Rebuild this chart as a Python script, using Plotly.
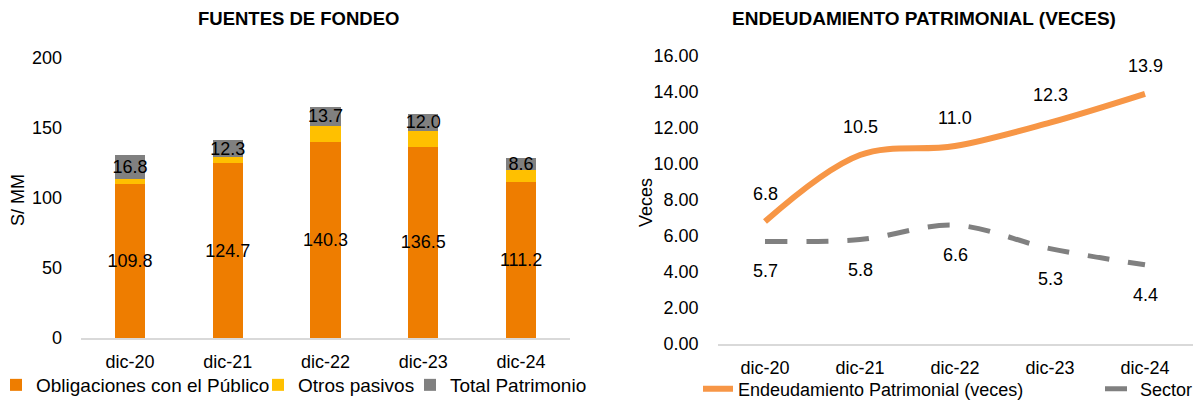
import plotly.graph_objects as go

# ---- data ----
periods = ["dic-20", "dic-21", "dic-22", "dic-23", "dic-24"]

obligaciones_publico = [109.8, 124.7, 140.3, 136.5, 111.2]
otros_pasivos = [4.1, 4.5, 11.1, 11.5, 9.0]
total_patrimonio = [16.8, 12.3, 13.7, 12.0, 8.6]

endeudamiento = [6.8, 10.5, 11.0, 12.3, 13.9]
sector = [5.7, 5.8, 6.6, 5.3, 4.4]

left_ticks = [0, 50, 100, 150, 200]
right_ticks = [0, 2, 4, 6, 8, 10, 12, 14, 16]

# ---- styles ----
FONT = "Liberation Sans, Arial, sans-serif"
C_OBL = "#EE7D00"
C_OTR = "#FFC000"
C_PAT = "#808080"
C_END = "#F79646"
C_SEC = "#808080"
AXIS_LINE = "#D9D9D9"
TXT = "#000000"
FS = 18
W, H = 1198, 402

fig = go.Figure()

# stacked bars (left panel)
fig.add_trace(go.Bar(
    x=periods, y=obligaciones_publico, name="Obligaciones con el Público",
    marker=dict(color=C_OBL, line=dict(width=0)),
    texttemplate="%{y:.1f}", textposition="inside", insidetextanchor="middle",
    textangle=0, textfont=dict(color=TXT, size=FS, family=FONT),
    xaxis="x", yaxis="y", legend="legend",
))
fig.add_trace(go.Bar(
    x=periods, y=otros_pasivos, name="Otros pasivos",
    marker=dict(color=C_OTR, line=dict(width=0)),
    xaxis="x", yaxis="y", legend="legend3",
))
fig.add_trace(go.Bar(
    x=periods, y=total_patrimonio, name="Total Patrimonio",
    marker=dict(color=C_PAT, line=dict(width=0)),
    texttemplate="%{y:.1f}", textposition="inside", insidetextanchor="middle",
    textangle=0, textfont=dict(color=TXT, size=FS, family=FONT),
    xaxis="x", yaxis="y", legend="legend4",
))

# lines (right panel)
fig.add_trace(go.Scatter(
    x=periods, y=endeudamiento, name="Endeudamiento Patrimonial (veces)",
    mode="lines", line=dict(color=C_END, width=6, shape="spline", smoothing=1.0),
    xaxis="x2", yaxis="y2", legend="legend2",
))
fig.add_trace(go.Scatter(
    x=periods, y=sector, name="Sector",
    mode="lines", line=dict(color=C_SEC, width=5, shape="spline", smoothing=1.0, dash="22px,19px"),
    xaxis="x2", yaxis="y2", legend="legend5",
))

annotations = []
# value labels for the lines
for p, v in zip(periods, endeudamiento):
    annotations.append(dict(x=p, y=v, xref="x2", yref="y2", text=f"{v:.1f}",
                            showarrow=False, yshift=28,
                            font=dict(size=FS, color=TXT, family=FONT)))
for p, v in zip(periods, sector):
    annotations.append(dict(x=p, y=v, xref="x2", yref="y2", text=f"{v:.1f}",
                            showarrow=False, yshift=-30,
                            font=dict(size=FS, color=TXT, family=FONT)))

# panel titles
annotations.append(dict(text="<b>FUENTES DE FONDEO</b>", x=298 / W, y=1 - 18 / H,
                        xref="paper", yref="paper", showarrow=False,
                        xanchor="center", yanchor="middle",
                        font=dict(size=18.5, color=TXT, family=FONT)))
annotations.append(dict(text="<b>ENDEUDAMIENTO PATRIMONIAL (VECES)</b>", x=924 / W, y=1 - 18 / H,
                        xref="paper", yref="paper", showarrow=False,
                        xanchor="center", yanchor="middle",
                        font=dict(size=19, color=TXT, family=FONT)))
# axis titles
annotations.append(dict(text="S/ MM", x=18 / W, y=1 - 200 / H, xref="paper", yref="paper",
                        showarrow=False, textangle=-90, xanchor="center", yanchor="middle",
                        font=dict(size=FS, color=TXT, family=FONT)))
annotations.append(dict(text="Veces", x=646 / W, y=1 - 203 / H, xref="paper", yref="paper",
                        showarrow=False, textangle=-90, xanchor="center", yanchor="middle",
                        font=dict(size=FS, color=TXT, family=FONT)))

axis_font = dict(size=FS, color=TXT, family=FONT)


def legend_at(x_px, y_px, size=FS):
    return dict(orientation="h", x=x_px / W, y=1 - y_px / H, xanchor="left", yanchor="middle",
                font=dict(size=size, color=TXT, family=FONT), bgcolor="rgba(0,0,0,0)",
                itemwidth=30, traceorder="normal")


fig.update_layout(
    width=W, height=H,
    margin=dict(l=0, r=0, t=0, b=0, autoexpand=False),
    paper_bgcolor="white", plot_bgcolor="white",
    barmode="stack", bargap=0.69,
    uniformtext=dict(minsize=FS, mode="show"),
    font=dict(family=FONT, color=TXT, size=FS),
    showlegend=True,
    xaxis=dict(domain=[81 / W, 570 / W], anchor="y", type="category",
               range=[-0.5, 4.5],
               showline=True, linecolor=AXIS_LINE, linewidth=2, ticks="",
               showgrid=False, zeroline=False, tickfont=axis_font,
               ticklabelstandoff=6),
    yaxis=dict(domain=[(H - 338) / H, (H - 58) / H], anchor="x",
               range=[0, 200], tickvals=left_ticks, showgrid=False,
               zeroline=False, showline=False, ticks="", tickfont=axis_font,
               ticklabelstandoff=18),
    xaxis2=dict(domain=[717.5 / W, 1192.5 / W], anchor="y2", type="category",
                range=[-0.5, 4.5],
                showline=True, linecolor=AXIS_LINE, linewidth=2, ticks="",
                showgrid=False, zeroline=False, tickfont=axis_font,
                ticklabelstandoff=6),
    yaxis2=dict(domain=[(H - 344) / H, (H - 56) / H], anchor="x2",
                range=[0, 16], tickvals=right_ticks, tickformat=".2f",
                showgrid=False, zeroline=False, showline=False, ticks="",
                tickfont=axis_font, ticklabelstandoff=18),
    legend=legend_at(-4, 385, 19),
    legend3=legend_at(258, 385, 19),
    legend4=legend_at(410, 385, 19),
    legend2=legend_at(698, 389),
    legend5=legend_at(1100, 389),
    annotations=annotations,
)

fig.write_html("out.html")
